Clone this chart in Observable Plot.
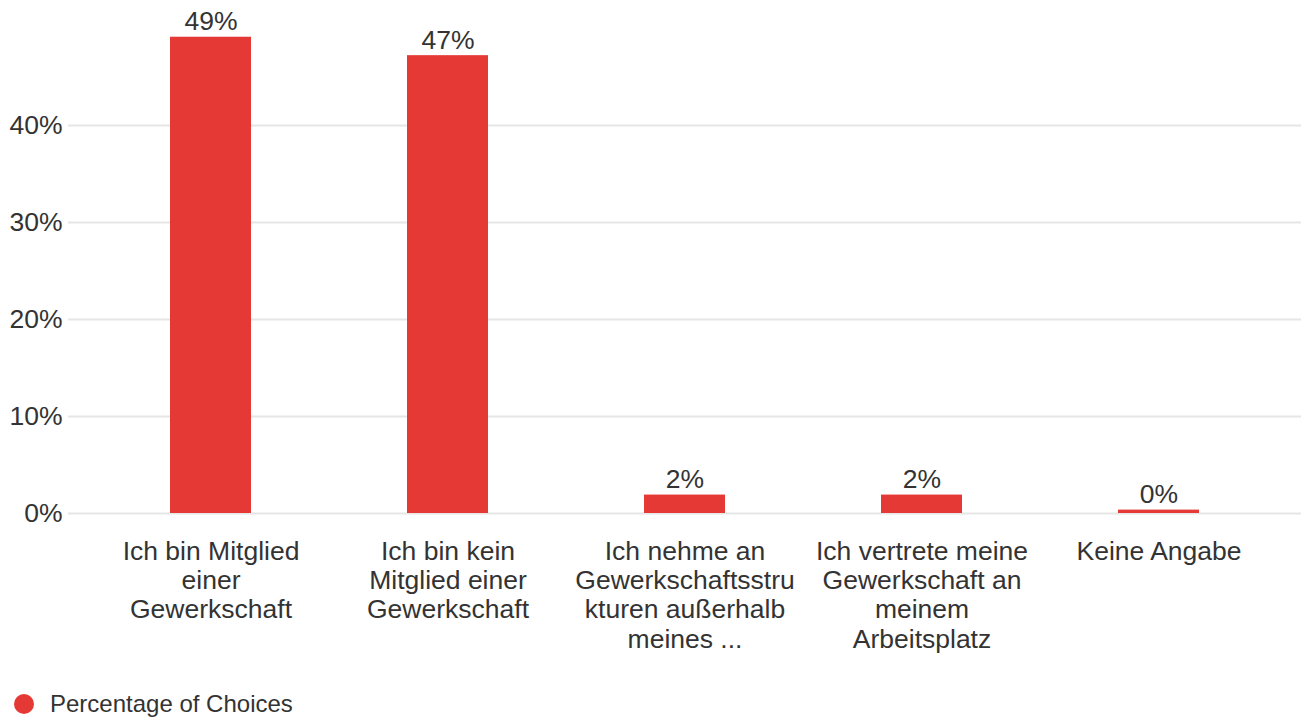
<!DOCTYPE html>
<html>
<head>
<meta charset="utf-8">
<script src="https://cdn.jsdelivr.net/npm/d3@7"></script>
<script src="https://cdn.jsdelivr.net/npm/@observablehq/plot@0.6"></script>
<style>
  html, body { margin: 0; padding: 0; background: #fff; }
  body { width: 1304px; height: 720px; overflow: hidden; font-family: "Liberation Sans", Arial, sans-serif; }
  #legend { position: relative; height: 40px; }
  #legend .dot { position: absolute; left: 14px; top: 14px; width: 20px; height: 20px; border-radius: 50%; background: #e53935; }
  #legend .lbl { position: absolute; left: 50px; top: 10px; font-size: 24px; color: #333; line-height: 28px; }
</style>
</head>
<body>
<div id="chart"></div>
<div id="legend"><span class="dot"></span><span class="lbl">Percentage of Choices</span></div>
<script>
const categories = [
  "Ich bin Mitglied\neiner\nGewerkschaft",
  "Ich bin kein\nMitglied einer\nGewerkschaft",
  "Ich nehme an\nGewerkschaftsstru\nkturen außerhalb\nmeines ...",
  "Ich vertrete meine\nGewerkschaft an\nmeinem\nArbeitsplatz",
  "Keine Angabe"
];
const values = [49.1, 47.2, 1.9, 1.9, 0.35];
const valueLabels = ["49%", "47%", "2%", "2%", "0%"];
const yTicks = [0, 10, 20, 30, 40];

const data = categories.map((c, i) => ({category: c, value: values[i], label: valueLabels[i]}));

const chart = Plot.plot({
  width: 1304,
  height: 680,
  marginLeft: 69,
  marginRight: 3,
  marginTop: 28,
  marginBottom: 167,
  style: {fontFamily: "'Liberation Sans', Arial, sans-serif", fontSize: "26.5px", color: "#333", background: "#fff"},
  x: {domain: categories, paddingInner: 0.658, paddingOuter: 0.428, label: null},
  y: {domain: [0, 50], label: null},
  marks: [
    Plot.ruleY(yTicks, {stroke: "#e6e6e6", strokeWidth: 2, insetLeft: -1}),
    Plot.barY(data, {x: "category", y: "value", fill: "#e53935"}),
    Plot.text(data, {x: "category", y: "value", text: "label", lineAnchor: "bottom", dy: -7, fontSize: 26.5, fill: "#333"}),
    Plot.axisY({ticks: yTicks, tickSize: 0, tickPadding: 7, tickFormat: d => d + "%", fontSize: 26.5, fill: "#333"}),
    Plot.axisX({tickSize: 0, tickPadding: 26, fontSize: 26.5, lineHeight: 1.1, fill: "#333", tickFormat: d => d})
  ]
});
document.getElementById("chart").appendChild(chart);
</script>
</body>
</html>
